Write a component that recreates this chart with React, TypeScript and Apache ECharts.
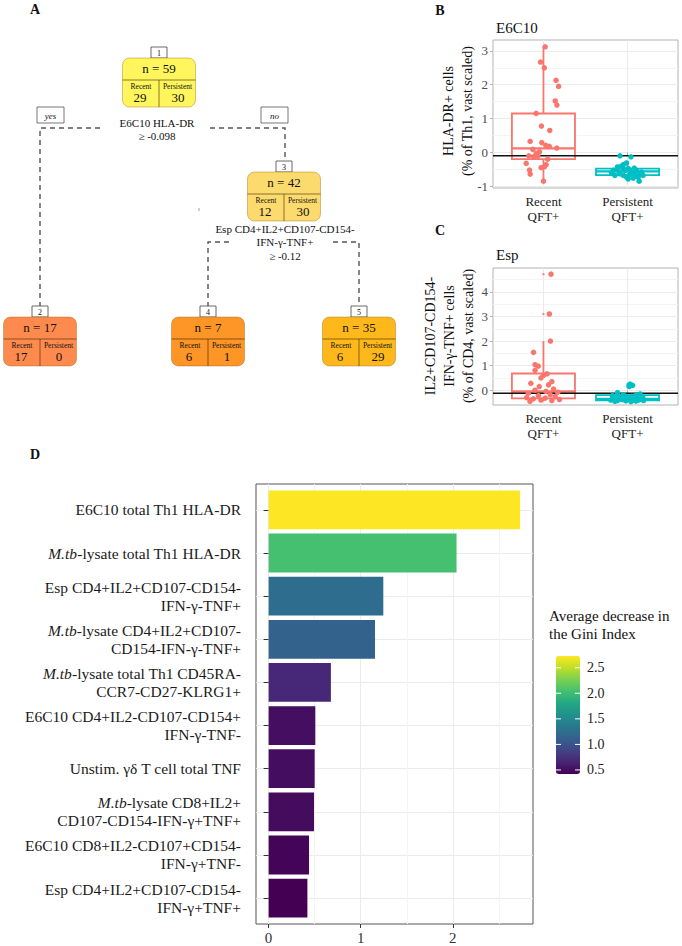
import React, { useEffect, useRef } from 'react';
import * as echarts from 'echarts';

const FONT = "'Liberation Serif', 'Times New Roman', Times, serif";

// ---------- Panel A: decision tree ----------
const nodeIds = [1, 2, 3, 4, 5];
const nodeN = [59, 17, 42, 7, 35];
const nodeRecent = [29, 17, 12, 6, 6];
const nodePersistent = [30, 0, 30, 1, 29];
const classNames = ['Recent', 'Persistent'];
const splitLabels = ['E6C10 HLA-DR', 'Esp CD4+IL2+CD107-CD154-\nIFN-γ-TNF+'];
const splitThresholds = [-0.098, -0.12];
const branchLabels = ['yes', 'no'];

// ---------- Panel B / C: box + jitter ----------
const groupLabels = ['Recent\nQFT+', 'Persistent\nQFT+'];
const bRecentX = [0.02, -0.035, 0.01, 0.15, 0.18, 0.14, 0.16, -0.087, -0.024, 0.075, -0.158, -0.02, 0.028, 0.07, 0.158, -0.126, -0.047, -0.087, -0.174, -0.067, 0.051, -0.205, 0.032, 0.012, -0.028, -0.166, -0.158, 0, -0.114];
const bRecentY = [3.12, 2.67, 2.5, 2.13, 1.95, 1.52, 1.4, 1.15, 0.78, 0.65, 0.33, 0.29, 0.21, 0.18, 0.13, 0.09, 0.02, -0.03, -0.1, -0.11, -0.2, -0.32, -0.36, -0.42, -0.45, -0.52, -0.64, -0.85, -0.13];
const bPersX = [-0.09, 0.04, -0.012, -0.05, -0.07, 0.08, -0.13, 0.01, 0.106, -0.1, 0.06, 0.146, -0.15, -0.05, 0.02, 0.185, 0.126, -0.012, 0.067, 0.138, -0.19, -0.12, -0.03, 0.035, 0.087, -0.09, -0.17, 0.166, 0.008, -0.05];
const bPersY = [-0.1, -0.13, -0.31, -0.36, -0.4, -0.46, -0.5, -0.48, -0.53, -0.58, -0.6, -0.63, -0.68, -0.68, -0.66, -0.68, -0.73, -0.73, -0.76, -0.85, -0.6, -0.43, -0.53, -0.56, -0.66, -0.63, -0.53, -0.58, -0.78, -0.48];
const bBoxStats = [[-0.85, -0.2, 0.12, 1.15, 3.12], [-0.85, -0.67, -0.56, -0.48, -0.31]];
const bYTicks = [-1, 0, 1, 2, 3];
const bYMinor = [-0.5, 0.5, 1.5, 2.5];

const cRecentX = [0.09, 0.07, 0.083, -0.118, -0.1, -0.063, -0.1, 0.043, 0.0, -0.03, 0.1, -0.15, 0.06, -0.05, 0.12, -0.1, 0.03, 0.17, -0.18, 0.08, -0.06, 0.14, -0.2, 0.02, -0.12, 0.19, -0.03, 0.1, -0.16];
const cRecentY = [4.72, 3.1, 2.0, 1.54, 1.04, 0.98, 0.81, 0.67, 0.6, 0.5, 0.35, 0.28, 0.22, 0.15, 0.05, 0.0, -0.05, -0.08, -0.12, -0.18, -0.22, -0.26, -0.3, -0.32, -0.35, -0.38, -0.4, -0.42, -0.45];
const cPersX = [0.03, 0.06, 0.02, -0.12, 0.15, -0.05, 0.1, -0.18, 0.05, -0.08, 0.18, -0.14, 0.0, 0.12, -0.03, -0.17, 0.08, 0.16, -0.1, 0.03, -0.06, 0.13, -0.2, 0.07, -0.12, 0.19, -0.02, 0.1, -0.15, 0.04];
const cPersY = [0.25, 0.2, 0.15, -0.1, -0.15, -0.18, -0.2, -0.22, -0.25, -0.27, -0.28, -0.3, -0.3, -0.32, -0.33, -0.35, -0.35, -0.36, -0.37, -0.38, -0.38, -0.4, -0.4, -0.41, -0.42, -0.42, -0.43, -0.44, -0.45, -0.46];
const cBoxStats = [[-0.45, -0.33, -0.05, 0.68, 2.0], [-0.46, -0.41, -0.35, -0.2, -0.1]];
const cRecentOutliers = [4.72, 3.1];
const cPersOutliers = [0.25, 0.2, 0.15];
const cYTicks = [1, 2, 3, 4, 0];
const cYMinor = [0.5, 1.5, 2.5, 3.5, 4.5];

// ---------- Panel D: variable importance ----------
const dLabels = [
  'E6C10 total Th1 HLA-DR',
  '{i|M.tb}-lysate total Th1 HLA-DR',
  'Esp CD4+IL2+CD107-CD154-\nIFN-γ-TNF+',
  '{i|M.tb}-lysate CD4+IL2+CD107-\nCD154-IFN-γ-TNF+',
  '{i|M.tb}-lysate total Th1 CD45RA-\nCCR7-CD27-KLRG1+',
  'E6C10 CD4+IL2-CD107-CD154+\nIFN-γ-TNF-',
  'Unstim. γδ T cell total TNF',
  '{i|M.tb}-lysate CD8+IL2+\nCD107-CD154-IFN-γ+TNF+',
  'E6C10 CD8+IL2-CD107+CD154-\nIFN-γ+TNF-',
  'Esp CD4+IL2+CD107-CD154-\nIFN-γ+TNF+',
];
const dValues = [2.73, 2.04, 1.245, 1.155, 0.676, 0.507, 0.5, 0.493, 0.439, 0.421];
const dXTicks = [0, 1, 2];
const dXMinor = [0.5, 1.5, 2.5];
const legendTicks = [0.5, 1.0, 1.5, 2.0, 2.5];
const legendTitle = ['Average decrease in', 'the Gini Index'];

// ---------- styles / layout ----------
const VIRIDIS = ['#440154', '#482475', '#414487', '#355F8D', '#2A788E', '#21918C', '#22A884', '#44BF70', '#7AD151', '#BDDF26', '#FDE725'];
const RED = '#F8766D';
const TEAL = '#00BFC4';
const nodeColors = ['#FEF65C', '#FE8A4E', '#FDDA6E', '#FD9527', '#FEB81C'];
const nodeCx = [159, 40, 284, 208, 359];
const nodeTop = [58, 317, 172, 317, 317];
const NODE_W = 73;
const NODE_H = 49;

const txt = (x: number, y: number, text: string, size: number, extra: any = {}, el: any = {}) => ({
  type: 'text',
  x,
  y,
  silent: true,
  ...el,
  style: { text, fontSize: size, fontFamily: FONT, fill: '#111', align: 'center', verticalAlign: 'middle', ...extra },
});

function buildTree(): any[] {
  const g: any[] = [];
  const dash = { stroke: '#555', lineWidth: 1.4, lineDash: [5, 4], fill: 'none' };
  const edges = [
    [[40, 307], [40, 128], [104, 128]],
    [[210, 128], [285, 128], [285, 161]],
    [[208, 307], [208, 242], [232, 242]],
    [[333, 242], [359, 242], [359, 307]],
  ];
  edges.forEach((pts) => g.push({ type: 'polyline', silent: true, shape: { points: pts }, style: dash }));
  [[37, 107], [261, 107]].forEach(([x, y], i) => {
    g.push({ type: 'rect', silent: true, shape: { x, y, width: 27, height: 16 }, style: { fill: '#fff', stroke: '#555', lineWidth: 0.8 } });
    g.push(txt(x + 13.5, y + 8.5, branchLabels[i], 9, { fontStyle: 'italic' }));
  });
  const splitPos = [[157, 123], [285, 229]];
  splitLabels.forEach((lab, i) => {
    const lines = lab.split('\n').concat(['≥ ' + splitThresholds[i]]);
    lines.forEach((l, j) => g.push(txt(splitPos[i][0], splitPos[i][1] + j * 13.3, l, 11)));
  });
  g.push({ type: 'line', silent: true, shape: { x1: 199, y1: 208, x2: 199, y2: 211 }, style: { stroke: '#888', lineWidth: 0.8 } });
  nodeIds.forEach((id, i) => {
    const cx = nodeCx[i];
    const top = nodeTop[i];
    const left = cx - NODE_W / 2;
    g.push({ type: 'rect', silent: true, shape: { x: cx - 8, y: top - 11, width: 16, height: 11 }, style: { fill: '#fff', stroke: '#444', lineWidth: 0.8 } });
    g.push(txt(cx, top - 5, String(id), 8));
    g.push({ type: 'rect', silent: true, shape: { x: left, y: top, width: NODE_W, height: NODE_H, r: 7 }, style: { fill: nodeColors[i], stroke: 'rgba(140,90,0,0.45)', lineWidth: 0.8 } });
    g.push({ type: 'line', silent: true, shape: { x1: left, y1: top + 22, x2: left + NODE_W, y2: top + 22 }, style: { stroke: 'rgba(60,40,0,0.75)', lineWidth: 0.8 } });
    g.push({ type: 'line', silent: true, shape: { x1: cx, y1: top + 22, x2: cx, y2: top + NODE_H }, style: { stroke: 'rgba(60,40,0,0.75)', lineWidth: 0.8 } });
    g.push(txt(cx, top + 10.5, 'n = ' + nodeN[i], 13));
    g.push(txt(cx - 18, top + 28, classNames[0], 7.5));
    g.push(txt(cx + 18.5, top + 28, classNames[1], 7.5));
    g.push(txt(cx - 19, top + 39.5, String(nodeRecent[i]), 13));
    g.push(txt(cx + 19, top + 39.5, String(nodePersistent[i]), 13));
  });
  return g;
}

function boxRenderer(colors: string[]) {
  return (params: any, api: any) => {
    const x = api.value(0);
    const lo = api.coord([x, api.value(1)]);
    const q1 = api.coord([x, api.value(2)]);
    const md = api.coord([x, api.value(3)]);
    const q3 = api.coord([x, api.value(4)]);
    const hi = api.coord([x, api.value(5)]);
    const half = api.size([0.75, 0])[0] / 2;
    const c = colors[params.dataIndex];
    const st = { stroke: c, lineWidth: 1.8, fill: 'none' };
    return {
      type: 'group',
      children: [
        { type: 'line', shape: { x1: hi[0], y1: hi[1], x2: q3[0], y2: q3[1] }, style: st },
        { type: 'line', shape: { x1: q1[0], y1: q1[1], x2: lo[0], y2: lo[1] }, style: st },
        { type: 'rect', shape: { x: q3[0] - half, y: q3[1], width: half * 2, height: q1[1] - q3[1] }, style: { ...st, fill: '#fff' } },
        { type: 'line', shape: { x1: md[0] - half, y1: md[1], x2: md[0] + half, y2: md[1] }, style: { ...st, lineWidth: 2.4 } },
      ],
    };
  };
}

function panelAxes(gridIndex: number, yMin: number, yMax: number, yTicks: number[], yMinor: number[]) {
  const xAxis = {
    type: 'value', gridIndex, min: 0.4, max: 2.6,
    axisLine: { show: false },
    axisTick: { show: true, customValues: [1, 2], length: 3, lineStyle: { color: '#B3B3B3' } },
    axisLabel: {
      customValues: [1, 2], fontSize: 13, lineHeight: 15, margin: 6, color: '#222', fontFamily: FONT,
      formatter: (v: number) => groupLabels[Math.round(v) - 1],
    },
    splitLine: { show: true, lineStyle: { color: '#EBEBEB', width: 1 } },
  };
  const yAxis = {
    type: 'value', gridIndex, min: yMin, max: yMax,
    axisLine: { show: false },
    axisTick: { show: true, customValues: yTicks, length: 3, lineStyle: { color: '#B3B3B3' } },
    axisLabel: { customValues: yTicks, fontSize: 13, margin: 5, color: '#4D4D4D', fontFamily: FONT, formatter: (v: number) => String(v) },
    splitLine: { show: true, lineStyle: { color: '#EBEBEB', width: 1 } },
  };
  const yMinorAxis = {
    type: 'value', gridIndex, min: yMin, max: yMax, position: 'left',
    axisLine: { show: false },
    axisTick: { show: false, customValues: yMinor },
    axisLabel: { show: false, customValues: yMinor },
    splitLine: { show: true, lineStyle: { color: '#F4F4F4', width: 1 } },
  };
  return { xAxis, yAxis, yMinorAxis };
}

function buildOption(): any {
  const B = panelAxes(0, -1.05, 3.32, bYTicks, bYMinor);
  const C = panelAxes(1, -0.6, 4.97, cYTicks, cYMinor);
  const legendTop = 656;
  const legendH = 118;
  const legendLeft = 556;
  const lMin = Math.min(...dValues);
  const lMax = Math.max(...dValues);

  const graphic: any[] = [
    ...buildTree(),
    txt(35, 9, 'A', 14, { fontWeight: 'bold' }),
    txt(440, 10, 'B', 14, { fontWeight: 'bold' }),
    txt(440, 230, 'C', 14, { fontWeight: 'bold' }),
    txt(35, 454, 'D', 14, { fontWeight: 'bold' }),
    txt(496, 28, 'E6C10', 15, { align: 'left' }),
    txt(496, 255, 'Esp', 15, { align: 'left' }),
    txt(448, 111, 'HLA-DR+ cells', 14, {}, { rotation: Math.PI / 2 }),
    txt(467, 111, '(% of Th1, vast scaled)', 14, {}, { rotation: Math.PI / 2 }),
    txt(430, 336, 'IL2+CD107-CD154-', 14, {}, { rotation: Math.PI / 2 }),
    txt(449, 336, 'IFN-γ-TNF+ cells', 14, {}, { rotation: Math.PI / 2 }),
    txt(468, 336, '(% of CD4, vast scaled)', 14, {}, { rotation: Math.PI / 2 }),
    txt(549, 616, legendTitle[0], 15, { align: 'left' }),
    txt(549, 634, legendTitle[1], 15, { align: 'left' }),
  ];
  legendTicks.forEach((v) => {
    const y = legendTop + ((lMax - v) / (lMax - lMin)) * legendH;
    graphic.push(txt(587, y, v.toFixed(1), 14, { align: 'left', fill: '#222' }));
    graphic.push({ type: 'line', silent: true, z: 100, shape: { x1: legendLeft, y1: y, x2: legendLeft + 5, y2: y }, style: { stroke: '#fff', lineWidth: 1 } });
    graphic.push({ type: 'line', silent: true, z: 100, shape: { x1: legendLeft + 19, y1: y, x2: legendLeft + 24, y2: y }, style: { stroke: '#fff', lineWidth: 1 } });
  });

  return {
    animation: false,
    backgroundColor: '#fff',
    textStyle: { fontFamily: FONT },
    grid: [
      { left: 493, top: 40, width: 185, height: 148, show: true, borderColor: '#B3B3B3', borderWidth: 1, backgroundColor: 'transparent', outerBoundsMode: 'none' },
      { left: 493, top: 268, width: 185, height: 137, show: true, borderColor: '#B3B3B3', borderWidth: 1, backgroundColor: 'transparent', outerBoundsMode: 'none' },
      { left: 256, top: 484, width: 277, height: 440, show: true, borderColor: '#555', borderWidth: 1, backgroundColor: 'transparent', outerBoundsMode: 'none' },
    ],
    xAxis: [
      B.xAxis,
      C.xAxis,
      {
        type: 'value', gridIndex: 2, min: -0.137, max: 2.87,
        axisLine: { show: false },
        axisTick: { show: true, customValues: dXTicks, length: 4, lineStyle: { color: '#333' } },
        axisLabel: { customValues: dXTicks, fontSize: 15, margin: 6, color: '#333', fontFamily: FONT, formatter: (v: number) => String(v) },
        splitLine: { show: true, lineStyle: { color: '#EBEBEB', width: 1 } },
      },
      {
        type: 'value', gridIndex: 2, min: -0.137, max: 2.87, position: 'bottom',
        axisLine: { show: false },
        axisTick: { show: false, customValues: dXMinor },
        axisLabel: { show: false, customValues: dXMinor },
        splitLine: { show: true, lineStyle: { color: '#F4F4F4', width: 1 } },
      },
    ],
    yAxis: [
      B.yAxis,
      B.yMinorAxis,
      C.yAxis,
      C.yMinorAxis,
      {
        type: 'value', gridIndex: 2, min: 0.4, max: 10.6, inverse: true,
        axisLine: { show: false },
        axisTick: { show: true, customValues: dLabels.map((_, i) => i + 1), length: 5, lineStyle: { color: '#333' } },
        axisLabel: {
          customValues: dLabels.map((_, i) => i + 1), fontSize: 15.5, lineHeight: 18, margin: 15, color: '#1a1a1a', fontFamily: FONT,
          formatter: (v: number) => dLabels[Math.round(v) - 1],
          rich: { i: { fontStyle: 'italic', fontSize: 15.5, lineHeight: 18, fontFamily: FONT, color: '#1a1a1a' } },
        },
        splitLine: { show: true, lineStyle: { color: '#EBEBEB', width: 1 } },
      },
    ],
    visualMap: {
      type: 'continuous', seriesIndex: 10, dimension: 0, min: lMin, max: lMax,
      inRange: { color: VIRIDIS }, show: true, calculable: false, orient: 'vertical',
      itemWidth: 24, itemHeight: legendH, left: legendLeft, top: legendTop, padding: 0, hoverLink: false,
    },
    series: [
      { type: 'custom', xAxisIndex: 0, yAxisIndex: 0, z: 2, renderItem: boxRenderer([RED, TEAL]), encode: { x: 0, y: [1, 2, 3, 4, 5] }, data: bBoxStats.map((s, i) => [i + 1, ...s]), silent: true },
      { type: 'line', xAxisIndex: 0, yAxisIndex: 0, z: 3, symbol: 'none', silent: true, lineStyle: { color: '#111', width: 1.5 }, data: [[0.4, splitThresholds[0]], [2.6, splitThresholds[0]]] },
      { type: 'scatter', xAxisIndex: 0, yAxisIndex: 0, z: 4, symbolSize: 5.5, itemStyle: { color: RED, opacity: 1 }, data: bRecentY.map((v, i) => [1 + bRecentX[i], v]) },
      { type: 'scatter', xAxisIndex: 0, yAxisIndex: 0, z: 4, symbolSize: 5.5, itemStyle: { color: TEAL, opacity: 1 }, data: bPersY.map((v, i) => [2 + bPersX[i], v]) },
      { type: 'custom', xAxisIndex: 1, yAxisIndex: 2, z: 2, renderItem: boxRenderer([RED, TEAL]), encode: { x: 0, y: [1, 2, 3, 4, 5] }, data: cBoxStats.map((s, i) => [i + 1, ...s]), silent: true },
      { type: 'line', xAxisIndex: 1, yAxisIndex: 2, z: 3, symbol: 'none', silent: true, lineStyle: { color: '#111', width: 1.5 }, data: [[0.4, splitThresholds[1]], [2.6, splitThresholds[1]]] },
      { type: 'scatter', xAxisIndex: 1, yAxisIndex: 2, z: 3, symbolSize: 2.5, itemStyle: { color: RED }, data: cRecentOutliers.map((v) => [1, v]) },
      { type: 'scatter', xAxisIndex: 1, yAxisIndex: 2, z: 3, symbolSize: 2.5, itemStyle: { color: TEAL }, data: cPersOutliers.map((v) => [2, v]) },
      { type: 'scatter', xAxisIndex: 1, yAxisIndex: 2, z: 4, symbolSize: 5.5, itemStyle: { color: RED, opacity: 1 }, data: cRecentY.map((v, i) => [1 + cRecentX[i], v]) },
      { type: 'scatter', xAxisIndex: 1, yAxisIndex: 2, z: 4, symbolSize: 5.5, itemStyle: { color: TEAL, opacity: 1 }, data: cPersY.map((v, i) => [2 + cPersX[i], v]) },
      {
        type: 'custom', xAxisIndex: 2, yAxisIndex: 4, z: 2, silent: true,
        encode: { x: 0, y: 1 },
        data: dValues.map((v, i) => [v, i + 1]),
        renderItem: (params: any, api: any) => {
          const v = api.value(0);
          const k = api.value(1);
          const s = api.coord([0, k]);
          const e = api.coord([v, k]);
          const h = api.size([0, 0.9])[1];
          return { type: 'rect', shape: { x: s[0], y: s[1] - h / 2, width: e[0] - s[0], height: h }, style: { fill: api.visual('color') } };
        },
      },
    ],
    graphic,
  };
}

export default function App() {
  const ref = useRef<HTMLDivElement>(null);
  useEffect(() => {
    if (!ref.current) return;
    const chart = echarts.init(ref.current, null, { renderer: 'svg' });
    chart.setOption(buildOption());
    return () => chart.dispose();
  }, []);
  return <div ref={ref} style={{ position: 'absolute', left: 0, top: 0, width: 682, height: 946, background: '#fff' }} />;
}
